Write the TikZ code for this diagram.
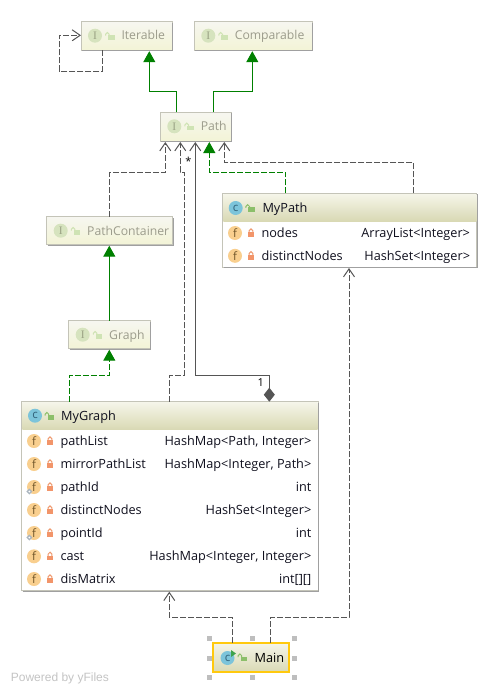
\documentclass[tikz,border=0pt]{standalone}
\usepackage{fontspec}
\setmainfont{Open Sans}
\newfontfamily\yfont{Liberation Sans}
\newfontfamily\iserif{Liberation Serif}
\usetikzlibrary{arrows.meta}
\definecolor{grn}{HTML}{008000}
\definecolor{edge}{HTML}{555555}
\definecolor{fadetxt}{HTML}{9C9C8C}
\definecolor{dark}{HTML}{10101E}
\definecolor{boxline}{HTML}{C4C4B8}
\definecolor{ifacetop}{HTML}{F6F6F0}
\definecolor{ifacebot}{HTML}{F3F4D6}
\definecolor{hdrtop}{HTML}{F5F5E9}
\definecolor{hdrbot}{HTML}{D9D9B4}
\definecolor{shadowc}{HTML}{A0A0A0}
\definecolor{handlec}{HTML}{BEBEBE}
\definecolor{selc}{HTML}{FFC90E}
\definecolor{lockline}{HTML}{EE9A70}
\definecolor{lockfill}{HTML}{F2956A}
\definecolor{ftxt}{HTML}{6E5428}
\definecolor{ffill}{HTML}{F9CF8E}
\definecolor{itxt}{HTML}{9AA284}
\definecolor{ifill}{HTML}{D6E3BE}
\definecolor{ilock}{HTML}{CFE3B4}
\definecolor{ctxt}{HTML}{2F5F76}
\definecolor{cfill}{HTML}{7CC4DA}
\definecolor{clock}{HTML}{8CBF6A}
\definecolor{runc}{HTML}{3FA34D}
\definecolor{statc}{HTML}{A9B4BE}
\definecolor{yfc}{HTML}{C4C4C4}
\tikzset{
  box/.style={draw=boxline,line width=1pt,rectangle,inner sep=0pt,outer sep=0pt,anchor=north west},
  iface/.style={box,top color=ifacetop,bottom color=ifacebot},
  cbody/.style={box,fill=white},
  hdr/.style={top color=hdrtop,bottom color=hdrbot,draw=none,rectangle,inner sep=0pt,anchor=north west},
  shadowline/.style={draw=shadowc,line width=1.2pt},
  lab/.style={inner sep=0pt,anchor=base west,font=\fontsize{12.7}{14}\selectfont,text=dark},
  labr/.style={inner sep=0pt,anchor=base east,font=\fontsize{12.7}{14}\selectfont,text=dark},
  flab/.style={lab,text=fadetxt,font=\fontsize{12.2}{14}\selectfont},
  inh/.style={draw=grn,line width=1pt,-{Triangle[length=11pt,width=12pt,fill=grn]}},
  inhd/.style={inh,dash pattern=on 6pt off 2pt},
  dep/.style={draw=edge,line width=1pt,dash pattern=on 6pt off 2pt,-{Straight Barb[length=8pt,width=11pt,line width=1pt]}},
  assoc/.style={draw=edge,line width=1pt,{Diamond[length=14pt,width=11pt,fill=edge]}-{Straight Barb[length=8pt,width=11pt,line width=1pt]}},
  handle/.style={fill=handlec,draw=none,minimum size=5pt,inner sep=0pt,rectangle},
  mult/.style={inner sep=0pt,font=\fontsize{11}{12}\selectfont,text=black},
  ictext/.style={inner sep=0pt,font=\fontsize{11.5}{11}\selectfont},
}
\newcommand{\icon}[5]{\fill[#4] (#1,#2) circle (7);\node[ictext,text=#3] at (#1,#2) {#5};}
\newcommand{\lockc}[2]{% centre x, field y
  \draw[lockline,line width=1pt] (#1-1.8,#2) -- (#1-1.8,#2-2.3) arc[start angle=180,end angle=360,radius=1.8] -- (#1+1.8,#2);
  \fill[lockfill] (#1-2.9,#2-0.6) rectangle (#1+2.9,#2+4);}
\newcommand{\locko}[3]{% centre x, body top y, colour
  \draw[#3,line width=1pt] (#1-5.4,#2+0.6) -- (#1-5.4,#2-0.8) arc[start angle=180,end angle=360,radius=1.8] -- (#1-1.8,#2+0.5);
  \fill[#3] (#1-3,#2) rectangle (#1+3.6,#2+4.6);}
\newcommand{\field}[5]{%
  \icon{#4+12.3}{#1}{ftxt}{ffill}{f}
  \lockc{#4+28.3}{#1}
  \node[lab] at (#4+38.6,#1+4.3) {#2};
  \node[labr] at (#5-6.5,#1+4.3) {#3};}
\newcommand{\staticmark}[2]{\fill[statc] (#1,#2-3) -- (#1+3,#2) -- (#1,#2+3) -- (#1-3,#2) -- cycle;\fill[white] (#1,#2-1) -- (#1+1,#2) -- (#1,#2+1) -- (#1-1,#2) -- cycle;}
\newcommand{\shadow}[1]{\draw[shadowline] ([xshift=1pt,yshift=-0.7pt]#1.south west) -- ([xshift=0.7pt,yshift=-0.7pt]#1.south east) -- ([xshift=0.7pt,yshift=-1pt]#1.north east);}
\newcommand{\ifacebox}[6]{%
  \node[iface,minimum width=#4pt,minimum height=#5pt] (#1) at (#2,#3) {};
  \shadow{#1}
  \icon{#2+14}{#3+14}{itxt}{ifill}{\iserif I}
  \locko{#2+30}{#3+13.4}{ilock}
  \node[flab,anchor=base west] at (#2+40.3,#3+18.3) {#6};}
\begin{document}
\begin{tikzpicture}[x=1pt,y=-1pt]
\useasboundingbox (0,0) rectangle (499,693);
\fill[white] (0,0) rectangle (499,693);
\ifacebox{iterable}{81}{21.7}{91}{28.5}{Iterable}
\ifacebox{comparable}{194.3}{21.7}{117.7}{28.5}{Comparable}
\ifacebox{path}{160.3}{112.3}{70.7}{28.7}{Path}
\ifacebox{pathcontainer}{46.7}{216.7}{126}{28}{PathContainer}
\ifacebox{graph}{68.7}{320.7}{81.3}{28}{Graph}
\node[cbody,minimum width=254pt,minimum height=73.7pt] (mypath) at (222.7,193.3) {};
\shadow{mypath}
\node[hdr,minimum width=253pt,minimum height=27pt] (mypathh) at (223.2,193.8) {};
\icon{235.7}{208}{ctxt}{cfill}{c}
\locko{251.3}{207.3}{clock}
\node[lab] at (262.3,212.5) {MyPath};
\field{233}{nodes}{ArrayList<Integer>}{222.7}{476.7}
\field{255.8}{distinctNodes}{HashSet<Integer>}{222.7}{476.7}
\node[cbody,minimum width=296.3pt,minimum height=189pt] (mygraph) at (21.7,401.7) {};
\shadow{mygraph}
\node[hdr,minimum width=295.3pt,minimum height=27pt] (mygraphh) at (22.2,402.2) {};
\icon{35}{415.7}{ctxt}{cfill}{c}
\locko{50.5}{415}{clock}
\node[lab] at (61,420) {MyGraph};
\field{441}{pathList}{HashMap<Path, Integer>}{21.7}{318}
\field{464}{mirrorPathList}{HashMap<Integer, Path>}{21.7}{318}
\field{487}{pathId}{int}{21.7}{318}
\field{510}{distinctNodes}{HashSet<Integer>}{21.7}{318}
\field{533}{pointId}{int}{21.7}{318}
\field{556.3}{cast}{HashMap<Integer, Integer>}{21.7}{318}
\field{579}{disMatrix}{int[][]}{21.7}{318}
\staticmark{29.3}{491.5}
\staticmark{29.3}{537.5}
\node[box,draw=selc,line width=2pt,top color=hdrtop,bottom color=hdrbot,minimum width=76pt,minimum height=29.6pt] (main) at (213.3,642.7) {};
\icon{227.5}{658}{ctxt}{cfill}{c}
\fill[runc] (231,650) -- (236,653.5) -- (231,657) -- cycle;
\locko{243.5}{656.5}{clock}
\node[lab,text=black] at (254.5,662.5) {Main};
\foreach \hx/\hy/\hn in {209/638/a,252/638/b,294/638/c,209/658/d,294/658/e,209/677.3/f,252/677.3/g,294/677.3/h}
  \node[handle] (h\hn) at (\hx,\hy) {};
\coordinate (iterin) at (81,35.3);
\draw[dep] ([xshift=21.3pt]iterable.south west) -- (102.3,71.3) -- (59.3,71.3) -- (59.3,35.3) -- (iterin);
\draw[inh] ([xshift=16pt]path.north west) -- (176.3,91.3) -- (149.3,91.3) -- ([xshift=68.3pt,yshift=-1pt]iterable.south west);
\draw[inh] ([xshift=53pt]path.north west) -- (213.3,91.3) -- (252.3,91.3) -- ([xshift=58pt,yshift=-1pt]comparable.south west);
\draw[dep] ([xshift=62.6pt]pathcontainer.north west) -- (109.3,172.3) -- (165.3,172.3) -- ([xshift=5pt,yshift=-1pt]path.south west);
\draw[dep] ([xshift=148pt]mygraph.north west) -- (169.7,375.3) -- (184.3,375.3) -- (184.3,172.3) -- (180.3,172.3) -- ([xshift=20pt,yshift=-1pt]path.south west);
\draw[assoc] ([xshift=247.6pt]mygraph.north west) -- (269.3,375.3) -- (195.3,375.3) -- ([xshift=35pt,yshift=-1pt]path.south west);
\draw[inhd] ([xshift=63pt]mypath.north west) -- (285.7,172.3) -- (209.3,172.3) -- ([xshift=49pt,yshift=-1pt]path.south west);
\draw[dep] ([xshift=190.6pt]mypath.north west) -- (413.3,162.3) -- (224.3,162.3) -- ([xshift=64pt,yshift=-1pt]path.south west);
\draw[inh] ([xshift=40.6pt]graph.north west) -- ([xshift=62.6pt,yshift=-1pt]pathcontainer.south west);
\draw[inhd] ([xshift=47.6pt]mygraph.north west) -- (69.3,375.3) -- (109.3,375.3) -- ([xshift=40.6pt,yshift=-1pt]graph.south west);
\draw[dep] ([xshift=19.4pt]main.north west) -- (232.7,617.3) -- (169.3,617.3) -- ([xshift=147.6pt,yshift=-1pt]mygraph.south west);
\draw[dep] ([xshift=57pt]main.north west) -- (270.3,617.3) -- (349,617.3) -- ([xshift=126.3pt,yshift=-1pt]mypath.south west);
\node[mult] (star) at (188.3,161.5) {*};
\node[mult] (one) at (260.7,383) {1};
\node[inner sep=0pt,anchor=base west,font=\yfont\fontsize{12}{14}\selectfont,text=yfc] (yf) at (10.7,681) {Powered by yFiles};
\end{tikzpicture}
\end{document}
